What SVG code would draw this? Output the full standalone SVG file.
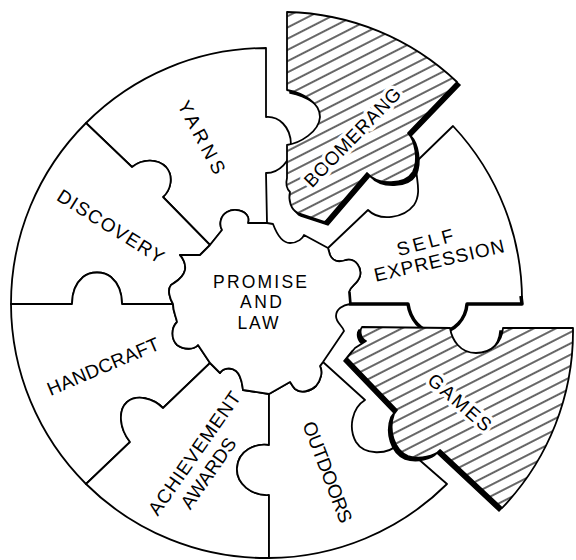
<svg xmlns="http://www.w3.org/2000/svg" width="576" height="560" viewBox="0 0 576 560">
<defs>
<pattern id="hatch" patternUnits="userSpaceOnUse" width="10" height="10" patternTransform="rotate(-27)">
<rect width="10" height="10" fill="#fff"/>
<line x1="-1" y1="5" x2="11" y2="5" stroke="#000" stroke-width="1.2"/>
</pattern>
</defs>
<style>
.pc{fill:#fff;stroke:#000;stroke-width:1.8;stroke-linejoin:round}
.hp{fill:url(#hatch);stroke:#000;stroke-width:1.8;stroke-linejoin:round}
.sh{fill:#000;stroke:#000;stroke-width:1.5}
.thick{fill:none;stroke:#000;stroke-width:3.5;stroke-linejoin:round}
.lbl{font-family:"Liberation Sans",Arial,sans-serif;font-size:19px;fill:#000;text-anchor:middle}
.ctr{font-family:"Liberation Sans",Arial,sans-serif;font-size:17.5px;fill:#000;text-anchor:middle}
.halo{stroke:#fff;stroke-width:7;stroke-linejoin:round;paint-order:stroke}
</style>
<rect width="576" height="560" fill="#fff"/>
<g id="yarns">
<path class="pc" d="M86,123 A255,255 0 0 1 266,48 L266,117 C278,116 291,126 291,145 C291,162 279,173 266,173 L267,223 L248,223 C248,222 249,220 248,217 C245,210 234,208 227,212 C220,216 219,225 222,230 L210,245 L163,197 C171,190 174,176 166,167 C158,159 143,158 132,167 Z"/>
<text class="lbl" transform="translate(202,137) rotate(62)" y="7" textLength="80" lengthAdjust="spacing">YARNS</text>
</g>
<g id="discovery">
<path class="pc" d="M11,304 A255,255 0 0 1 86,123 L132,167 C143,158 158,159 166,167 C174,176 171,190 163,197 L210,245 L200,255 L180,255 C183,258 186,264 185,270 C183,279 175,282 171,285 C167,290 170,299 173,304 L122,304 C122,292 118,283 111,277 C104,271 90,271 83,277 C76,283 72,292 72,304 Z"/>
<text class="lbl" transform="translate(111,226) rotate(32)" y="7" textLength="122" lengthAdjust="spacing">DISCOVERY</text>
</g>
<g id="handcraft">
<path class="pc" d="M11,304 L72,304 C72,292 76,283 83,277 C90,271 104,271 111,277 C118,283 122,292 122,304 L173,304 C173,312 176,316 177,322 C171,328 171,339 177,345 C184,350 194,350 198,345 L210,363 L163,408 C153,398 137,394 127,402 C118,410 119,428 130,442 L86,484 A255,255 0 0 1 11,304 Z"/>
<text class="lbl" transform="translate(103,366) rotate(-23)" y="7" textLength="120" lengthAdjust="spacing">HANDCRAFT</text>
</g>
<g id="achievement-awards">
<path class="pc" d="M86,484 L130,442 C119,428 118,410 127,402 C137,394 153,398 163,408 L210,363 L220,373 C223,368 231,367 236,371 C242,376 242,385 243,390 L269,394 L269,445 C256,443 238,450 237,468 C236,484 252,496 269,495 L269,558 A255,255 0 0 1 86,484 Z"/>
<text class="lbl" transform="translate(194,453) rotate(-55)" y="7" textLength="146" lengthAdjust="spacing">ACHIEVEMENT</text>
<text class="lbl" transform="translate(208,473) rotate(-55)" y="7" textLength="82" lengthAdjust="spacing">AWARDS</text>
</g>
<g id="outdoors">
<path class="pc" d="M269,558 L269,495 C252,496 236,484 237,468 C238,450 256,443 269,445 L269,394 L290,382 C291,383 292,386 295,389 C301,394 311,391 316,386 C321,380 323,372 320,366 L323,362 L365,400 C352,408 348,428 356,442 C364,455 387,456 400,443 L447,484 A255,255 0 0 1 269,558 Z"/>
<text class="lbl" transform="translate(328,472) rotate(69)" y="7" textLength="107" lengthAdjust="spacing">OUTDOORS</text>
</g>
<g id="self-expression">
<path class="pc" d="M453,126 L418,160 C412,172 424,190 414,205 C404,218 380,222 368,210 L328,248 L330,255 C333,262 340,262 346,260 C356,258 362,268 360,276 C358,284 351,285 349,292 L350,304 L408,304 C410,318 420,333 437,333 C455,333 466,318 467,304 L522,304 A255,255 0 0 0 453,126 Z"/>
<path class="thick" d="M349,292 L350,304 L408,304 C410,318 420,333 437,333 C455,333 466,318 467,304 L522,304 L521,296"/>
<text class="lbl" transform="translate(425,242) rotate(-15)" y="7" textLength="58" lengthAdjust="spacing">SELF</text>
<text class="lbl" transform="translate(439,260) rotate(-13)" y="7" textLength="133" lengthAdjust="spacing">EXPRESSION</text>
</g>
<g id="promise-and-law">
<path class="pc" d="M267,223 L273,224 C276,232 282,243 290,243 C298,243 303,238 304,235 L328,248 L330,255 C333,262 340,262 346,260 C356,258 362,268 360,276 C358,284 351,285 349,292 L350,304 C343,305 336,309 336,316 C336,323 343,326 344,331 L323,362 L320,366 C323,372 321,380 316,386 C311,391 301,394 295,389 C292,386 291,383 290,382 L269,394 L243,390 C242,385 242,376 236,371 C231,367 223,368 220,373 L210,363 L198,345 C194,350 184,350 177,345 C171,339 171,328 177,322 C176,316 173,312 173,304 C170,299 167,290 171,285 C175,282 183,279 185,270 C186,264 183,258 180,255 L200,255 L210,245 L222,230 C219,225 220,216 227,212 C234,208 245,210 248,217 C249,220 248,222 248,223 Z"/>
<text class="ctr" x="260" y="288" textLength="94" lengthAdjust="spacing">PROMISE</text>
<text class="ctr" x="261" y="308" textLength="42" lengthAdjust="spacing">AND</text>
<text class="ctr" x="258" y="329" textLength="41" lengthAdjust="spacing">LAW</text>
</g>
<g id="boomerang">
<path class="sh" transform="translate(3,3)" d="M287,12 A255,255 0 0 1 457,82 L408,133 C415,140 419,160 413,172 C405,185 378,186 367,173 L325,222 L298,213 C291,210 288,200 290,192 C286,188 286,182 287,178 L287,145 C300,143 319,132 320,117 C320,102 302,93 287,90 Z"/>
<path class="hp" d="M287,12 A255,255 0 0 1 457,82 L408,133 C415,140 419,160 413,172 C405,185 378,186 367,173 L325,222 L298,213 C291,210 288,200 290,192 C286,188 286,182 287,178 L287,145 C300,143 319,132 320,117 C320,102 302,93 287,90 Z"/>
<text class="lbl halo" transform="translate(352,137) rotate(-46)" y="7" textLength="130" lengthAdjust="spacing">BOOMERANG</text>
</g>
<g id="games">
<path class="sh" transform="translate(-3,3)" d="M362,327 L450,328 C452,340 460,353 476,353 C492,353 502,342 503,328 L573,328 A255,255 0 0 1 502,508 L440,450 C435,456 420,460 408,456 C394,450 388,430 394,414 L397,410 L347,358 L355,348 L366,341 C361,339 359,331 362,327 Z"/>
<path class="hp" d="M362,327 L450,328 C452,340 460,353 476,353 C492,353 502,342 503,328 L573,328 A255,255 0 0 1 502,508 L440,450 C435,456 420,460 408,456 C394,450 388,430 394,414 L397,410 L347,358 L355,348 L366,341 C361,339 359,331 362,327 Z"/>
<text class="lbl halo" transform="translate(460,402) rotate(41)" y="7" textLength="77" lengthAdjust="spacing">GAMES</text>
</g>
</svg>
